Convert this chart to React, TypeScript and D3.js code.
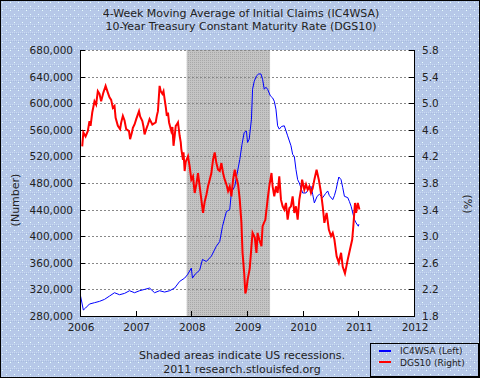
import React from "react";
import * as d3 from "d3";

const W = 480;
const H = 378;

const titleLines = [
  "4-Week Moving Average of Initial Claims (IC4WSA)",
  "10-Year Treasury Constant Maturity Rate (DGS10)",
];
const yearTicks = [2006, 2007, 2008, 2009, 2010, 2011, 2012];
const leftTicks = [280000, 320000, 360000, 400000, 440000, 480000, 520000, 560000, 600000, 640000, 680000];
const rightTicks = [1.8, 2.2, 2.6, 3.0, 3.4, 3.8, 4.2, 4.6, 5.0, 5.4, 5.8];
const recessions: [number, number][] = [[2007.917, 2009.414]];

// IC4WSA (thousands), [decimal year, value]
const claims: [number, number][] = [
  [2006.01, 310], [2006.06, 289], [2006.1, 292], [2006.17, 298], [2006.26, 300], [2006.35, 302],
  [2006.44, 305], [2006.53, 310], [2006.62, 315], [2006.71, 312], [2006.8, 314], [2006.89, 318],
  [2006.98, 315], [2007.07, 318], [2007.16, 320], [2007.25, 322], [2007.34, 315], [2007.43, 318],
  [2007.52, 316], [2007.61, 318], [2007.7, 322], [2007.79, 332], [2007.88, 337], [2007.93, 342],
  [2008.0, 352], [2008.02, 337], [2008.07, 343], [2008.15, 349], [2008.2, 365], [2008.27, 362],
  [2008.36, 370], [2008.45, 385], [2008.51, 392], [2008.56, 415], [2008.63, 437], [2008.69, 440],
  [2008.72, 466], [2008.78, 475], [2008.82, 493], [2008.87, 515], [2008.91, 538], [2008.95, 556],
  [2008.99, 558], [2009.01, 541], [2009.04, 546], [2009.08, 576], [2009.1, 621], [2009.13, 633],
  [2009.17, 641], [2009.21, 644], [2009.25, 644], [2009.28, 636], [2009.31, 621], [2009.34, 624],
  [2009.37, 621], [2009.42, 611], [2009.46, 608], [2009.49, 603], [2009.52, 591], [2009.55, 566],
  [2009.58, 561], [2009.62, 565], [2009.67, 566], [2009.73, 551], [2009.79, 536], [2009.82, 523],
  [2009.85, 520], [2009.88, 500], [2009.91, 485], [2009.94, 480], [2010.0, 465], [2010.06, 465],
  [2010.1, 470], [2010.15, 475], [2010.18, 463], [2010.21, 450], [2010.26, 460], [2010.3, 463],
  [2010.36, 458], [2010.41, 464], [2010.45, 468], [2010.48, 461], [2010.54, 455], [2010.57, 461],
  [2010.6, 470], [2010.63, 482], [2010.65, 489], [2010.69, 485], [2010.72, 473], [2010.75, 460],
  [2010.81, 458], [2010.84, 452], [2010.87, 445], [2010.93, 425], [2010.96, 420], [2011.0, 415],
  [2011.01, 418],
];

// DGS10 (%), [decimal year, value]
const rates: [number, number][] = [
  [2006.04, 4.35], [2006.06, 4.56], [2006.1, 4.5], [2006.14, 4.58], [2006.17, 4.73], [2006.19, 4.66],
  [2006.22, 4.86], [2006.26, 5.03], [2006.29, 4.98], [2006.32, 5.18], [2006.35, 5.14], [2006.38, 5.03],
  [2006.42, 5.16], [2006.46, 5.26], [2006.5, 5.16], [2006.53, 5.09], [2006.56, 5.05], [2006.59, 4.93],
  [2006.62, 4.96], [2006.64, 4.78], [2006.68, 4.66], [2006.72, 4.61], [2006.74, 4.71], [2006.77, 4.81],
  [2006.8, 4.74], [2006.83, 4.61], [2006.88, 4.58], [2006.9, 4.46], [2006.93, 4.55], [2006.95, 4.63],
  [2006.98, 4.68], [2007.01, 4.76], [2007.06, 4.88], [2007.08, 4.8], [2007.12, 4.73], [2007.14, 4.65],
  [2007.16, 4.53], [2007.19, 4.61], [2007.22, 4.68], [2007.25, 4.76], [2007.3, 4.68], [2007.36, 4.71],
  [2007.38, 4.81], [2007.4, 4.88], [2007.43, 5.26], [2007.45, 5.18], [2007.48, 5.14], [2007.5, 5.18],
  [2007.52, 5.06], [2007.54, 4.95], [2007.56, 4.81], [2007.58, 4.86], [2007.6, 4.71], [2007.64, 4.58],
  [2007.66, 4.64], [2007.68, 4.36], [2007.7, 4.5], [2007.72, 4.66], [2007.74, 4.68], [2007.76, 4.71],
  [2007.79, 4.51], [2007.81, 4.41], [2007.82, 4.31], [2007.85, 4.15], [2007.86, 4.26], [2007.88, 3.98],
  [2007.9, 4.12], [2007.94, 4.2], [2007.97, 4.05], [2008.0, 3.85], [2008.03, 3.9], [2008.06, 3.65],
  [2008.09, 3.78], [2008.12, 3.95], [2008.15, 3.75], [2008.18, 3.55], [2008.21, 3.35], [2008.24, 3.52],
  [2008.27, 3.62], [2008.3, 3.75], [2008.33, 3.85], [2008.36, 3.95], [2008.39, 4.15], [2008.42, 4.26],
  [2008.45, 4.1], [2008.48, 4.0], [2008.51, 3.98], [2008.54, 4.1], [2008.57, 3.95], [2008.6, 3.85],
  [2008.63, 3.78], [2008.66, 3.68], [2008.69, 3.75], [2008.72, 3.6], [2008.75, 3.85], [2008.78, 4.0],
  [2008.81, 3.88], [2008.84, 3.78], [2008.87, 3.55], [2008.9, 3.2], [2008.92, 2.75], [2008.95, 2.44],
  [2008.97, 2.14], [2008.99, 2.2], [2009.01, 2.34], [2009.05, 2.52], [2009.08, 2.85], [2009.1, 3.05],
  [2009.14, 2.98], [2009.17, 2.75], [2009.19, 3.05], [2009.22, 2.95], [2009.26, 2.85], [2009.28, 3.15],
  [2009.33, 3.25], [2009.37, 3.55], [2009.4, 3.75], [2009.44, 3.95], [2009.46, 3.75], [2009.49, 3.6],
  [2009.52, 3.75], [2009.55, 3.65], [2009.58, 3.9], [2009.61, 3.55], [2009.64, 3.45], [2009.67, 3.4],
  [2009.7, 3.5], [2009.73, 3.25], [2009.76, 3.42], [2009.79, 3.45], [2009.82, 3.6], [2009.85, 3.35],
  [2009.88, 3.45], [2009.91, 3.25], [2009.94, 3.55], [2009.97, 3.7], [2009.99, 3.85], [2010.03, 3.7],
  [2010.06, 3.78], [2010.09, 3.7], [2010.12, 3.75], [2010.15, 3.65], [2010.18, 3.72], [2010.21, 3.85],
  [2010.25, 4.0], [2010.29, 3.85], [2010.33, 3.65], [2010.36, 3.45], [2010.39, 3.2], [2010.43, 3.35],
  [2010.47, 3.1], [2010.51, 3.0], [2010.54, 3.05], [2010.57, 2.95], [2010.61, 2.7], [2010.65, 2.6],
  [2010.69, 2.75], [2010.72, 2.54], [2010.76, 2.44], [2010.81, 2.65], [2010.85, 2.8], [2010.89, 2.95],
  [2010.91, 3.15], [2010.94, 3.5], [2010.96, 3.35], [2010.99, 3.5], [2011.02, 3.4],
];

const PL = 80, PR = 414, PT = 50, PB = 316;
const FONT = "'DejaVu Sans', Verdana, sans-serif";

export default function App() {
  const x = d3.scaleLinear().domain([2006, 2012]).range([PL, PR]);
  const yL = d3.scaleLinear().domain([280000, 680000]).range([PB, PT]);
  const yR = d3.scaleLinear().domain([1.8, 5.8]).range([PB, PT]);

  const claimsLine = d3.line<[number, number]>().x((d) => x(d[0])).y((d) => yL(d[1] * 1000))(claims) || "";
  const ratesLine = d3.line<[number, number]>().x((d) => x(d[0])).y((d) => yR(d[1]))(rates) || "";

  return (
    <svg width={W} height={H} style={{ position: "absolute", left: 0, top: 0 }} fontFamily={FONT}>
      <defs>
        <pattern id="bg" width="8" height="8" patternUnits="userSpaceOnUse">
          <rect width="8" height="8" fill="#b6c8e8" />
          <rect x="0" y="0" width="1" height="1" fill="#c8d8f2" />
          <rect x="2" y="0" width="1" height="1" fill="#c8d8f2" />
          <rect x="4" y="0" width="1" height="1" fill="#c8d8f2" />
          <rect x="6" y="0" width="1" height="1" fill="#c8d8f2" />
          <rect x="1" y="1" width="1" height="1" fill="#a9bde0" />
          <rect x="3" y="1" width="1" height="1" fill="#a9bde0" />
          <rect x="5" y="1" width="1" height="1" fill="#a9bde0" />
          <rect x="7" y="1" width="1" height="1" fill="#a9bde0" />
          <rect x="2" y="2" width="1" height="1" fill="#e8ffff" />
          <rect x="6" y="6" width="1" height="1" fill="#e8ffff" />
        </pattern>
        <pattern id="rec" width="2" height="2" patternUnits="userSpaceOnUse">
          <rect width="2" height="2" fill="#c4c4c4" />
          <rect x="0" y="0" width="1" height="1" fill="#a8a8a8" />
        </pattern>
        <clipPath id="plotclip">
          <rect x={PL} y={PT - 2} width={PR - PL} height={PB - PT + 2} />
        </clipPath>
      </defs>
      <rect x={0} y={0} width={W} height={H} fill="url(#bg)" />
      <rect x={0.5} y={0.5} width={W - 1} height={H - 1} fill="none" stroke="#000" />

      {titleLines.map((t, i) => (
        <text key={i} x={241} y={17 + i * 13} fontSize={11} textAnchor="middle" fill="#222">
          {t}
        </text>
      ))}

      <rect x={PL} y={PT} width={PR - PL} height={PB - PT} fill="#fff" />
      {recessions.map((r, i) => (
        <rect key={i} x={x(r[0])} y={PT} width={x(r[1]) - x(r[0])} height={PB - PT} fill="url(#rec)" />
      ))}

      {leftTicks.map((t) => (
        <g key={t}>
          <line x1={PL} x2={PR} y1={Math.round(yL(t)) + 0.5} y2={Math.round(yL(t)) + 0.5} stroke="#888" strokeDasharray="2,2" />
          <line x1={PL} x2={PL + 5} y1={Math.round(yL(t)) + 0.5} y2={Math.round(yL(t)) + 0.5} stroke="#000" />
          <line x1={PR - 5} x2={PR} y1={Math.round(yL(t)) + 0.5} y2={Math.round(yL(t)) + 0.5} stroke="#000" />
          <text x={73} y={yL(t) + 4} fontSize={10.5} textAnchor="end" fill="#222">
            {d3.format(",")(t)}
          </text>
        </g>
      ))}
      {rightTicks.map((t) => (
        <text key={t} x={422} y={yR(t) + 4} fontSize={10.5} textAnchor="start" fill="#222">
          {t.toFixed(1)}
        </text>
      ))}
      {yearTicks.map((t) => (
        <g key={t}>
          <line x1={Math.round(x(t)) + 0.5} x2={Math.round(x(t)) + 0.5} y1={PB - 5} y2={PB} stroke="#000" />
          <text x={x(t) + 1} y={PB + 15} fontSize={10.5} textAnchor="middle" fill="#222">
            {t}
          </text>
        </g>
      ))}

      <g clipPath="url(#plotclip)">
        <path d={claimsLine} fill="none" stroke="#0000ff" strokeWidth={1} />
        <path d={ratesLine} fill="none" stroke="#ff0000" strokeWidth={2} />
      </g>

      <line x1={PL + 0.5} x2={PL + 0.5} y1={PT} y2={PB + 1} stroke="#000" />
      <line x1={PR + 0.5} x2={PR + 0.5} y1={PT} y2={PB + 1} stroke="#000" />
      <line x1={PL} x2={PR + 1} y1={PB + 0.5} y2={PB + 0.5} stroke="#000" />

      <text transform={`translate(19,${200}) rotate(-90)`} fontSize={11} textAnchor="middle" fill="#222">
        (Number)
      </text>
      <text transform={`translate(464,${204}) rotate(90)`} fontSize={11} textAnchor="middle" fill="#222">
        (%)
      </text>

      <text x={242} y={359} fontSize={11} textAnchor="middle" fill="#222">
        Shaded areas indicate US recessions.
      </text>
      <text x={242} y={373} fontSize={11} textAnchor="middle" fill="#222">
        2011 research.stlouisfed.org
      </text>

      <rect x={370.5} y={343.5} width={108} height={33} fill="url(#bg)" stroke="#000" />
      <line x1={379} x2={391} y1={351} y2={351} stroke="#0000ff" strokeWidth={2} />
      <line x1={379} x2={391} y1={362} y2={362} stroke="#ff0000" strokeWidth={2} />
      <text x={400} y={354} fontSize={9} fill="#222">IC4WSA (Left)</text>
      <text x={400} y={365.5} fontSize={9} fill="#222">DGS10 (Right)</text>
    </svg>
  );
}
